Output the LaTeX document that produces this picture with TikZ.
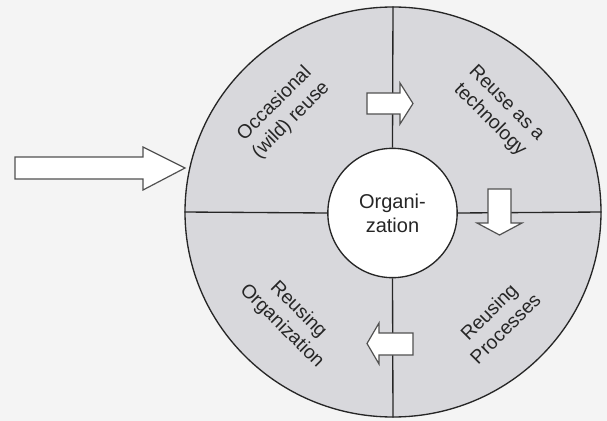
\documentclass[tikz,border=0pt]{standalone}
\usepackage{fontspec}
\setmainfont{Liberation Sans}
\usepackage{tikz}
\usetikzlibrary{shapes.geometric}

\definecolor{ringgray}{HTML}{D8D8DC}
\definecolor{paper}{HTML}{F4F4F4}
\definecolor{inkgray}{HTML}{262626}

\tikzset{
  blockarrow/.style={draw=inkgray!80, fill=white, line width=0.9pt, line join=miter},
  quarter/.style={font=\fontsize{14.5}{17.5}\selectfont, align=center, text=inkgray, inner sep=0.75pt},
}

\begin{document}
\begin{tikzpicture}[x=0.75pt,y=0.75pt,yscale=-1,xscale=1]
\useasboundingbox[fill=paper] (0,0) rectangle (607,421);

% Outer ring and centre
\node (ring) [ellipse, draw=inkgray, line width=1pt, fill=ringgray, minimum width=312pt, minimum height=307.5pt, inner sep=0pt] at (393,212) {};
\node (org) [circle, draw=inkgray, line width=1pt, fill=white, minimum size=97pt, inner sep=0pt, align=center, font=\fontsize{15}{18}\selectfont, text=inkgray] at (392.5,213) {Organi-\\zation};

%Straight Lines
\draw [inkgray, line width=1pt] (org.north) -- (ring.north) ;
\draw [inkgray, line width=1pt] (org.south) -- (ring.south) ;
\draw [inkgray, line width=1pt] (org.west) -- (ring.west) ;
\draw [inkgray, line width=1pt] (org.east) -- (ring.east) ;

%Block Arrows
\draw [blockarrow] (15,157) -- (143,157) -- (143,147) -- (185,168) -- (143,190) -- (143,179) -- (15,179) -- cycle ;
\draw [blockarrow] (367,93) -- (400,93) -- (400,83) -- (413,103.5) -- (400,124) -- (400,114) -- (367,114) -- cycle ;
\draw [blockarrow] (488,189) -- (511,189) -- (511,223) -- (522,223) -- (499.5,235) -- (477,223) -- (488,223) -- cycle ;
\draw [blockarrow] (413,333) -- (379,333) -- (379,323) -- (367,343.5) -- (379,364) -- (379,355) -- (413,355) -- cycle ;

% Text Node
\node (occ) [quarter, rotate=45] at (283,112) {Occasional\\(wild) reuse};
% Text Node
\node (tech) [quarter, rotate=-45] at (498,112) {Reuse as a\\technology};
% Text Node
\node (reorg) [quarter, rotate=-45] at (290,318) {Reusing\\Organization};
% Text Node
\node (proc) [quarter, rotate=45] at (497,320) {Reusing\\Processes};

\end{tikzpicture}
\end{document}
